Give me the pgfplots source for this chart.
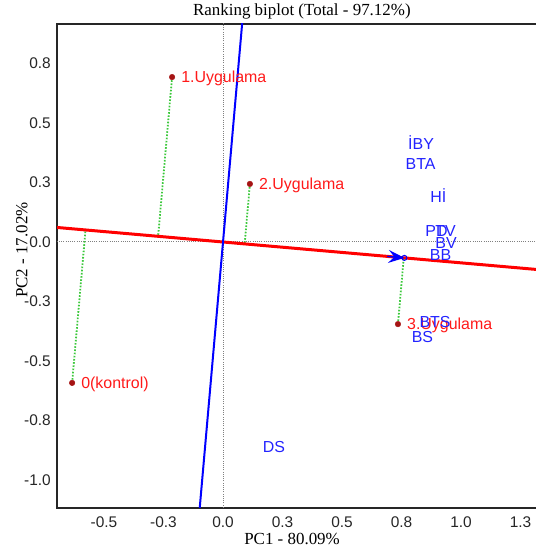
\documentclass[border=0pt]{standalone}
\usepackage{fontspec}
\setmainfont{Liberation Serif}
\setsansfont{Liberation Sans}
\usepackage{pgfplots}
\pgfplotsset{compat=1.18}
\usetikzlibrary{arrows.meta}
\definecolor{lblue}{RGB}{35,35,255}
\definecolor{lred}{RGB}{255,25,25}
\definecolor{dred}{RGB}{165,20,20}
\definecolor{pgreen}{RGB}{60,200,60}
\begin{document}
\begin{tikzpicture}[x=1bp,y=1bp]
\useasboundingbox (0,0) rectangle (536,550);
\begin{axis}[
  at={(57bp,42bp)}, anchor=south west,
  scale only axis, width=489.7bp, height=484bp,
  xmin=-0.6975, xmax=1.36, ymin=-1.1176, ymax=0.916,
  axis line style={line width=1.5bp, black!85},
  major tick length=0pt,
  xtick={-0.5,-0.25,0,0.25,0.5,0.75,1,1.25},
  xticklabels={-0.5,-0.3,0.0,0.3,0.5,0.8,1.0,1.3},
  ytick={-1,-0.75,-0.5,-0.25,0,0.25,0.5,0.75},
  yticklabels={-1.0,-0.8,-0.5,-0.3,0.0,0.3,0.5,0.8},
  ticklabel style={font=\sffamily\fontsize{15.5}{18}\selectfont, text=black!85, inner sep=0pt},
  xticklabel style={anchor=north, yshift=-9bp},
  yticklabel style={anchor=east, xshift=-6bp},
  title={Ranking biplot (Total - 97.12\%)},
  title style={at={(0.5,1)}, anchor=base, yshift=3bp, inner sep=0pt, font=\fontsize{17}{20}\selectfont},
  xlabel={PC1 - 80.09\%},
  xlabel style={at={(axis description cs:0.48,-0.064)}, anchor=center, inner sep=0pt, font=\fontsize{17}{20}\selectfont},
  ylabel={PC2 - 17.02\%},
  ylabel style={at={(axis description cs:-0.0715,0.533)}, anchor=center, inner sep=0pt, font=\fontsize{17}{20}\selectfont},
  clip=true,
]
% reference axes
\addplot[gray, line width=1bp, dash pattern=on 1bp off 1.2bp] coordinates {(0,-1.2) (0,1)};
\addplot[gray, line width=1bp, dash pattern=on 1bp off 1.2bp] coordinates {(-0.8,0) (1.5,0)};
% projections
\addplot[pgreen, line width=1.8bp, dash pattern=on 1.6bp off 1.6bp] coordinates {(-0.214,0.693) (-0.27262,0.02388)};
\addplot[pgreen, line width=1.8bp, dash pattern=on 1.6bp off 1.6bp] coordinates {(0.113,0.244) (0.09093,-0.00797)};
\addplot[pgreen, line width=1.8bp, dash pattern=on 1.6bp off 1.6bp] coordinates {(0.735,-0.345) (0.75940,-0.06653)};
\addplot[pgreen, line width=1.8bp, dash pattern=on 1.6bp off 1.6bp] coordinates {(-0.634,-0.592) (-0.57771,0.05061)};
% AEC lines
\addplot[red, line width=3bp] coordinates {(-0.8,0.07008) (1.5,-0.1314)};
\addplot[blue, line width=2bp] coordinates {(0.0876,1) (-0.1051,-1.2)};
% arrow at average environment
\addplot[blue, line width=1.5bp, -{Stealth[length=16bp,width=13bp,inset=6bp]}] coordinates {(0.690,-0.0604) (0.762,-0.0667)};
\addplot[blue, only marks, mark=o, mark size=2.5bp, line width=1bp] coordinates {(0.762,-0.0667)};
% treatments
\addplot[only marks, mark=*, mark size=2.8bp, mark options={fill=dred, draw=dred},
  nodes near coords, point meta=explicit symbolic,
  every node near coord/.append style={anchor=base west, xshift=9bp, yshift=-5.6bp, inner sep=0pt, text=lred, font=\sffamily\fontsize{16}{18}\selectfont}]
  coordinates {
    (-0.214,0.693) [1.Uygulama]
    (0.113,0.244) [2.Uygulama]
    (0.735,-0.345) [3.Uygulama]
    (-0.634,-0.592) [0(kontrol)]
  };
% traits
\addplot[draw=none, mark=none,
  nodes near coords, point meta=explicit symbolic,
  every node near coord/.append style={anchor=base, yshift=-5.6bp, inner sep=0pt, text=lblue, font=\sffamily\fontsize{16}{18}\selectfont}]
  coordinates {
    (0.832,0.412) [İBY]
    (0.830,0.330) [BTA]
    (0.905,0.189) [Hİ]
    (0.897,0.046) [PD]
    (0.935,0.046) [TV]
    (0.937,-0.002) [BV]
    (0.914,-0.053) [BB]
    (0.891,-0.334) [BTS]
    (0.838,-0.397) [BS]
    (0.214,-0.861) [DS]
  };
\end{axis}
\end{tikzpicture}
\end{document}
